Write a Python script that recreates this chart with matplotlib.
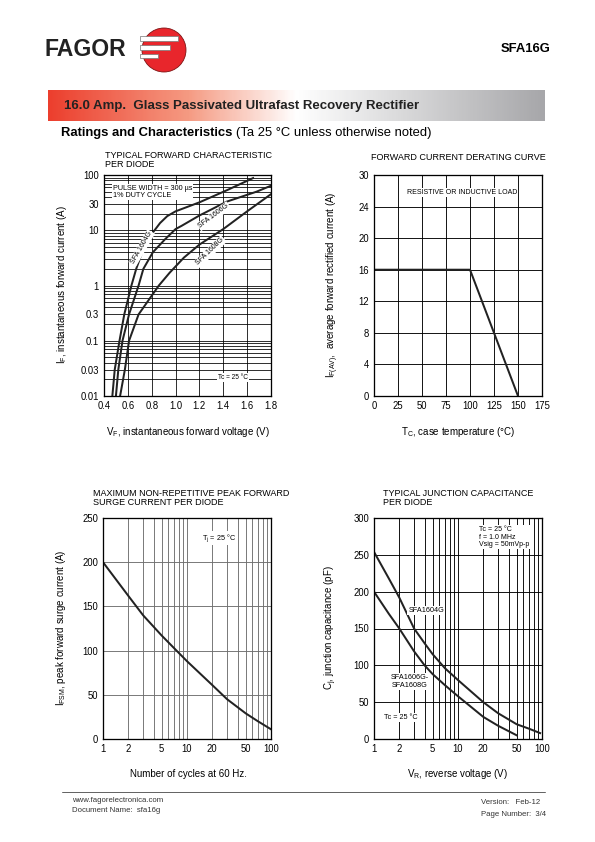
import numpy as np
import matplotlib.pyplot as plt
from matplotlib.ticker import FixedLocator, LogLocator, NullFormatter
from matplotlib.colors import LinearSegmentedColormap
from matplotlib.patches import Circle, Rectangle

plt.rcParams['font.family'] = ['Liberation Sans', 'DejaVu Sans']

# --- data ---
# typical forward characteristic (VF in V, IF in A)
vf_1604 = [0.47, 0.49, 0.53, 0.57, 0.63, 0.67, 0.72, 0.79, 0.87, 0.93, 1.0, 1.2, 1.43, 1.65]
if_1604 = [0.01, 0.03, 0.1, 0.3, 1, 2, 4, 8, 13.5, 18, 22, 32, 53, 88]
vf_1606 = [0.50, 0.52, 0.555, 0.61, 0.69, 0.73, 0.81, 0.91, 1.0, 1.05, 1.2, 1.43, 1.68, 1.8]
if_1606 = [0.01, 0.03, 0.1, 0.3, 1, 2, 4, 6.8, 10.5, 12, 18.5, 33, 50, 64]
vf_1608 = [0.535, 0.575, 0.61, 0.69, 0.86, 0.95, 1.07, 1.2, 1.4, 1.6, 1.8]
if_1608 = [0.01, 0.03, 0.1, 0.3, 1, 1.7, 3.2, 5.5, 10.5, 22, 45]

# derating curve
tc = [0, 100, 150]
iav = [16, 16, 0]

# surge current
cycles = [1, 2, 3, 5, 7.5, 10, 20, 30, 50, 70, 100]
ifsm = [200, 162, 140, 117, 100, 88, 61, 45, 29, 20, 11]

# junction capacitance
vr_1604 = [1, 1.5, 2, 3, 4, 5, 7, 10, 20, 30, 50, 70, 95]
cj_1604 = [254, 218, 192, 150, 130, 115, 96, 80, 50, 35, 20, 14, 8]
vr_1606 = [1, 1.5, 2, 3, 4, 5, 7, 10, 20, 30, 50]
cj_1606 = [200, 170, 150, 119, 100, 88, 73, 58, 30, 18, 5]

W, H = 595, 842
fig = plt.figure(figsize=(W / 72, H / 72), dpi=72)


def axes_px(x0, y0, x1, y1):
    return fig.add_axes([x0 / W, 1 - y1 / H, (x1 - x0) / W, (y1 - y0) / H])


def txt(x, y, s, **kw):
    fig.text(x / W, 1 - y / H, s, **kw)


def style(ax):
    for sp in ax.spines.values():
        sp.set_linewidth(1.3)
    ax.tick_params(which='both', length=0, labelsize=9.5, pad=5)


box = dict(facecolor='white', edgecolor='none', pad=1.0)

# --- header ---
hdr = fig.add_axes([0, 0, 1, 1], zorder=-1)
hdr.set_xlim(0, W)
hdr.set_ylim(H, 0)
hdr.axis('off')
txt(44, 49, 'FAGOR', fontsize=23, fontweight='bold', va='center', color='#222222')
hdr.add_patch(Circle((164, 50), 22, facecolor='#e8262c', edgecolor='#7a1010', lw=0.8))
hdr.add_patch(Rectangle((140, 36), 38, 5, facecolor='white', edgecolor='#777777', lw=0.7))
hdr.add_patch(Rectangle((140, 45), 30, 5, facecolor='white', edgecolor='#777777', lw=0.7))
hdr.add_patch(Rectangle((140, 54), 18, 4, facecolor='white', edgecolor='#777777', lw=0.7))
txt(550, 49, 'SFA16G', fontsize=13, fontweight='bold', ha='right', va='center')

# gradient title bar
bar = axes_px(48, 90, 545, 121)
cmap = LinearSegmentedColormap.from_list('bar', [(0, '#ec3f2e'), (0.28, '#f59a82'),
                                                 (0.5, '#ffffff'), (0.7, '#dcdcdd'), (1, '#a7a7aa')])
bar.imshow(np.linspace(0, 1, 300).reshape(1, -1), cmap=cmap, aspect='auto')
bar.axis('off')
txt(64, 106, '16.0 Amp.  Glass Passivated Ultrafast Recovery Rectifier',
    fontsize=13.2, fontweight='bold', va='center', color='#222222')
txt(61, 133, 'Ratings and Characteristics', fontsize=13, fontweight='bold', va='center')
txt(236, 133, '(Ta 25 °C unless otherwise noted)', fontsize=13, va='center')

# --- typical forward characteristic ---
ax1 = axes_px(104, 175, 271, 396)
ax1.set_yscale('log')
ax1.set_xlim(0.4, 1.8)
ax1.set_ylim(0.01, 100)
ax1.xaxis.set_major_locator(FixedLocator(np.arange(0.4, 1.81, 0.2)))
ax1.set_xticklabels(['0.4', '0.6', '0.8', '1.0', '1.2', '1.4', '1.6', '1.8'])
ax1.yaxis.set_major_locator(FixedLocator([0.01, 0.03, 0.1, 0.3, 1, 10, 30, 100]))
ax1.set_yticklabels(['0.01', '0.03', '0.1', '0.3', '1', '10', '30', '100'])
ax1.yaxis.set_minor_locator(LogLocator(subs=range(2, 10)))
ax1.yaxis.set_minor_formatter(NullFormatter())
ax1.grid(which='both', color='black', lw=0.8)
ax1.plot(vf_1604, if_1604, color='#222222', lw=2)
ax1.plot(vf_1606, if_1606, color='#222222', lw=2)
ax1.plot(vf_1608, if_1608, color='#222222', lw=2)
ax1.text(0.716, 4.8, 'SFA 1604G', rotation=60, fontsize=7, ha='center', va='center', bbox=box)
ax1.text(1.32, 18, 'SFA 1606G', rotation=37, fontsize=7, ha='center', va='center', bbox=box)
ax1.text(1.29, 4.1, 'SFA 1608G', rotation=44, fontsize=7, ha='center', va='center', bbox=box)
ax1.text(0.475, 49, 'PULSE WIDTH = 300 µs\n1% DUTY CYCLE', fontsize=7.2, va='center',
         linespacing=1.15, bbox=box)
ax1.text(1.48, 0.0214, 'Tc = 25 °C', fontsize=6.5, ha='center', va='center', bbox=box)
style(ax1)
txt(105, 160, 'TYPICAL FORWARD CHARACTERISTIC\nPER DIODE', fontsize=9, va='center', linespacing=0.9)
txt(62, 285, r'I$_\mathregular{F}$, instantaneous forward current (A)', fontsize=9.8,
    rotation=90, ha='center', va='center')
txt(188, 432, r'V$_\mathregular{F}$, instantaneous forward voltage (V)', fontsize=9.8,
    ha='center', va='center')

# --- forward current derating ---
ax2 = axes_px(374, 175, 542, 396)
ax2.set_xlim(0, 175)
ax2.set_ylim(0, 28)
ax2.xaxis.set_major_locator(FixedLocator([0, 25, 50, 75, 100, 125, 150, 175]))
ax2.yaxis.set_major_locator(FixedLocator([0, 4, 8, 12, 16, 20, 24, 28]))
ax2.set_yticklabels(['0', '4', '8', '12', '16', '20', '24', '30'])
ax2.grid(color='black', lw=0.9)
ax2.plot(tc, iav, color='#222222', lw=2)
ax2.text(92, 25.8, 'RESISTIVE OR INDUCTIVE LOAD', fontsize=7, ha='center', va='center', bbox=box)
style(ax2)
txt(371, 157, 'FORWARD CURRENT DERATING CURVE', fontsize=9, va='center')
txt(333, 285, r'I$_\mathregular{F(AV)}$,  average forward rectified current (A)', fontsize=9.8,
    rotation=90, ha='center', va='center')
txt(458, 432, r'T$_\mathregular{C}$, case temperature (°C)', fontsize=9.8, ha='center', va='center')

# --- peak forward surge current ---
ax3 = axes_px(103, 518, 271, 739)
ax3.set_xscale('log')
ax3.set_xlim(1, 100)
ax3.set_ylim(0, 250)
ax3.xaxis.set_major_locator(FixedLocator([1, 2, 5, 10, 20, 50, 100]))
ax3.set_xticklabels(['1', '2', '5', '10', '20', '50', '100'])
ax3.xaxis.set_minor_locator(LogLocator(subs=range(2, 10)))
ax3.xaxis.set_minor_formatter(NullFormatter())
ax3.yaxis.set_major_locator(FixedLocator([0, 50, 100, 150, 200, 250]))
ax3.grid(which='both', color='#6e6e6e', lw=0.9)
ax3.plot(cycles, ifsm, color='#222222', lw=2)
ax3.text(24, 227, r'T$_\mathregular{j}$ = 25 °C', fontsize=7.3, ha='center', va='center', bbox=box)
style(ax3)
txt(93, 498, 'MAXIMUM NON-REPETITIVE PEAK FORWARD\nSURGE CURRENT PER DIODE', fontsize=9,
    va='center', linespacing=0.9)
txt(61, 628, r'I$_\mathregular{FSM}$, peak forward surge current (A)', fontsize=9.8,
    rotation=90, ha='center', va='center')
txt(188, 774, 'Number of cycles at 60 Hz.', fontsize=9.8, ha='center', va='center')

# --- junction capacitance ---
ax4 = axes_px(374, 518, 542, 739)
ax4.set_xscale('log')
ax4.set_xlim(1, 100)
ax4.set_ylim(0, 300)
ax4.xaxis.set_major_locator(FixedLocator([1, 2, 5, 10, 20, 50, 100]))
ax4.set_xticklabels(['1', '2', '5', '10', '20', '50', '100'])
ax4.xaxis.set_minor_locator(LogLocator(subs=range(2, 10)))
ax4.xaxis.set_minor_formatter(NullFormatter())
ax4.yaxis.set_major_locator(FixedLocator([0, 50, 100, 150, 200, 250, 300]))
ax4.grid(which='both', color='black', lw=0.9)
ax4.plot(vr_1604, cj_1604, color='#222222', lw=2)
ax4.plot(vr_1606, cj_1606, color='#222222', lw=2)
ax4.text(17.7, 274, 'Tc = 25 °C\nf = 1.0 MHz\nVsig = 50mVp-p', fontsize=7, va='center',
         linespacing=1.05, bbox=box)
ax4.text(4.2, 175, 'SFA1604G', fontsize=7.2, ha='center', va='center', bbox=box)
ax4.text(2.65, 78, 'SFA1606G-\nSFA1608G', fontsize=7.2, ha='center', va='center',
         linespacing=1.05, bbox=box)
ax4.text(2.11, 29, 'Tc = 25 °C', fontsize=7.2, ha='center', va='center', bbox=box)
style(ax4)
txt(383, 498, 'TYPICAL JUNCTION CAPACITANCE\nPER DIODE', fontsize=9, va='center', linespacing=0.9)
txt(331, 628, r'C$_\mathregular{j}$, junction capacitance (pF)', fontsize=9.8,
    rotation=90, ha='center', va='center')
txt(458, 774, r'V$_\mathregular{R}$, reverse voltage (V)', fontsize=9.8, ha='center', va='center')

# --- footer ---
hdr.plot([62, 545], [792, 792], color='black', lw=0.6)
txt(72, 801, 'www.fagorelectronica.com', fontsize=7.7, va='center', color='#333333')
txt(72, 811, 'Document Name:  sfa16g', fontsize=7.7, va='center', color='#333333')
txt(481, 803, 'Version:   Feb-12', fontsize=7.7, va='center', color='#333333')
txt(481, 814, 'Page Number:  3/4', fontsize=7.7, va='center', color='#333333')

fig.savefig('out.png', dpi=72)
